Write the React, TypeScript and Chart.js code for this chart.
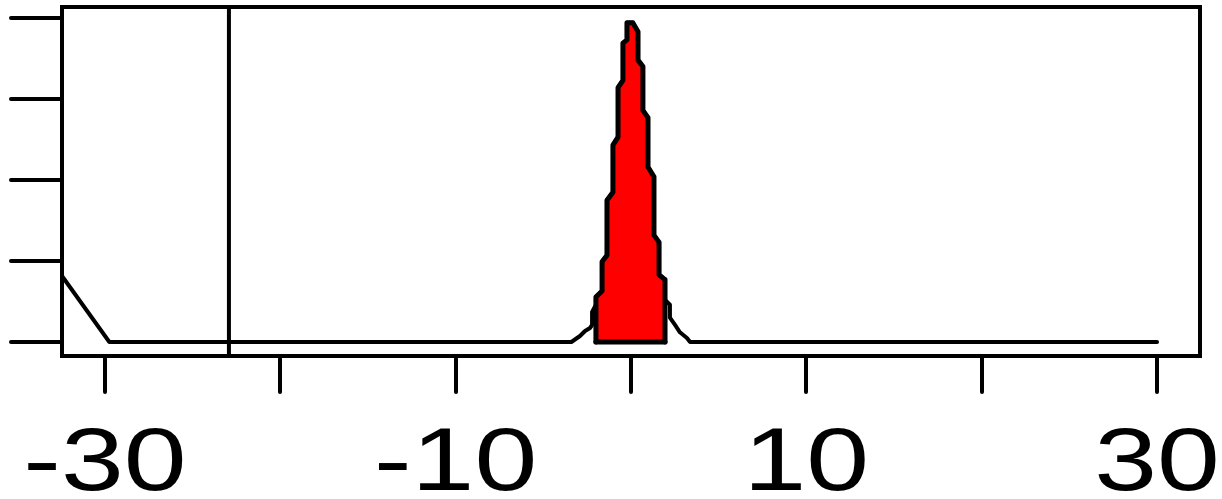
import React, { useEffect, useRef } from "react";
import { Chart, registerables, LinearScale } from "chart.js";

Chart.register(...registerables);

// ---------- data ----------
const xTickValues = [-30, -20, -10, 0, 10, 20, 30];
const xTickLabels = ["-30", "", "-10", "", "10", "", "30"];
const yTickValues = [0, 0.1, 0.2, 0.3, 0.4];

const X_MIN = -32.45;
const X_MAX = 32.45;
const Y_MIN = -0.0173;
const Y_MAX = 0.4136;

// density curve (black line)
const curveX = [
  -33, -29.75, -3.4, -2.91, -2.62, -2.34, -2.22, -2.22, -2.0, -2.0, -1.65, -1.65,
  -1.37, -1.37, -1.03, -1.03, -0.74, -0.74, -0.46, -0.46, -0.23, -0.23, 0.11,
  0.4, 0.4, 0.68, 0.68, 0.97, 0.97, 1.31, 1.31, 1.6, 1.6, 1.88, 1.94, 2.22, 2.22,
  2.51, 2.79, 3.19, 3.37, 30,
];
const curveY = [
  0.098, 0, 0, 0.0074, 0.0136, 0.0173, 0.021, 0.037, 0.046, 0.0556, 0.063, 0.099,
  0.107, 0.175, 0.185, 0.243, 0.253, 0.314, 0.323, 0.369, 0.373, 0.394, 0.394,
  0.383, 0.348, 0.34, 0.286, 0.277, 0.216, 0.204, 0.132, 0.123, 0.083, 0.077,
  0.052, 0.046, 0.03, 0.021, 0.012, 0.005, 0, 0,
];

// shaded region between -2 and 2 (red polygon)
const shadeX = [
  -2.0, -2.0, -1.65, -1.65, -1.37, -1.37, -1.03, -1.03, -0.74, -0.74, -0.46,
  -0.46, -0.23, -0.23, 0.11, 0.4, 0.4, 0.68, 0.68, 0.97, 0.97, 1.31, 1.31, 1.6,
  1.6, 1.94, 1.94,
];
const shadeY = [
  0, 0.0556, 0.063, 0.099, 0.107, 0.175, 0.185, 0.243, 0.253, 0.314, 0.323,
  0.369, 0.373, 0.394, 0.394, 0.383, 0.348, 0.34, 0.286, 0.277, 0.216, 0.204,
  0.132, 0.123, 0.083, 0.077, 0,
];
// bottom edge of the shaded polygon
const shadeBaseX = [-2.0, 1.94];
const shadeBaseY = [0, 0];

// vertical reference line
const vLineX = -22.93;

// ---------- helpers ----------
const X_STRETCH = 1.27;

class StretchedLinearScale extends LinearScale {
  static id = "stretchedLinear";
  static defaults = LinearScale.defaults;
  getLabelItems(chartArea: any) {
    const items = super.getLabelItems(chartArea);
    return items.map((it: any) => ({
      ...it,
      options: {
        ...it.options,
        translation: [it.options.translation[0] / X_STRETCH, it.options.translation[1]],
      },
    }));
  }
  drawLabels(chartArea: any) {
    const ctx = this.ctx;
    ctx.save();
    ctx.scale(X_STRETCH, 1);
    super.drawLabels(chartArea);
    ctx.restore();
  }
}
Chart.register(StretchedLinearScale as any);

const zip = (xs: number[], ys: number[]) => xs.map((x, i) => ({ x, y: ys[i] }));

const framePlugin = {
  id: "frame",
  beforeDraw(chart: any) {
    chart.ctx.lineCap = "round";
    chart.ctx.lineJoin = "round";
  },
  afterDraw(chart: any) {
    const { ctx, chartArea } = chart;
    ctx.save();
    ctx.strokeStyle = "#000";
    ctx.lineWidth = 4;
    ctx.lineJoin = "miter";
    ctx.strokeRect(
      chartArea.left,
      chartArea.top,
      chartArea.right - chartArea.left,
      chartArea.bottom - chartArea.top
    );
    ctx.restore();
  },
};

export default function App() {
  const ref = useRef<HTMLCanvasElement | null>(null);

  useEffect(() => {
    if (!ref.current) return;
    const lineCommon = {
      pointRadius: 0,
      tension: 0,
      borderColor: "#000",
      borderWidth: 4,
      borderCapStyle: "round",
      borderJoinStyle: "round",
    };
    const chart = new Chart(ref.current, {
      type: "line",
      data: {
        datasets: [
          {
            ...lineCommon,
            label: "vline",
            data: [
              { x: vLineX, y: -1 },
              { x: vLineX, y: 1 },
            ],
            fill: false,
          },
          {
            ...lineCommon,
            label: "shadeBase",
            borderWidth: 5,
            data: zip(shadeBaseX, shadeBaseY),
            fill: false,
          },
          {
            ...lineCommon,
            label: "shade",
            borderWidth: 5,
            data: zip(shadeX, shadeY),
            fill: "origin",
            backgroundColor: "#ff0000",
          },
          {
            ...lineCommon,
            label: "density",
            data: zip(curveX, curveY),
            fill: false,
          },
        ],
      },
      options: {
        responsive: false,
        animation: false,
        devicePixelRatio: 1,
        events: [],
        layout: { padding: { left: 0, top: 7, right: 22, bottom: 0 } },
        plugins: {
          legend: { display: false },
          tooltip: { enabled: false },
          filler: { propagate: false },
        },
        scales: {
          x: {
            type: "stretchedLinear",
            position: "bottom",
            min: X_MIN,
            max: X_MAX,
            afterBuildTicks: (s: any) => {
              s.ticks = xTickValues.map((v) => ({ value: v }));
            },
            afterFit: (s: any) => {
              s.height = 143;
            },
            grid: {
              drawOnChartArea: false,
              drawTicks: true,
              tickLength: 36,
              lineWidth: 4,
              color: "#000",
            },
            border: { display: false },
            ticks: {
              autoSkip: false,
              maxRotation: 0,
              minRotation: 0,
              padding: 0,
              color: "#000",
              font: {
                family: "'Liberation Sans', Arial, sans-serif",
                size: 89,
                lineHeight: 1.66,
              },
              callback: (v: any) => {
                const i = xTickValues.indexOf(Number(v));
                return i >= 0 ? xTickLabels[i] : "";
              },
            },
          },
          y: {
            type: "linear",
            position: "left",
            min: Y_MIN,
            max: Y_MAX,
            afterBuildTicks: (s: any) => {
              s.ticks = yTickValues.map((v) => ({ value: v }));
            },
            afterFit: (s: any) => {
              s.width = 62;
            },
            grid: {
              drawOnChartArea: false,
              drawTicks: true,
              tickLength: 51,
              lineWidth: 4,
              color: "#000",
            },
            border: { display: false },
            ticks: { display: false },
          },
        },
      } as any,
      plugins: [framePlugin],
    });
    return () => chart.destroy();
  }, []);

  return (
    <canvas
      ref={ref}
      width={1222}
      height={499}
      style={{ position: "absolute", left: 0, top: 0, width: 1222, height: 499 }}
    />
  );
}
